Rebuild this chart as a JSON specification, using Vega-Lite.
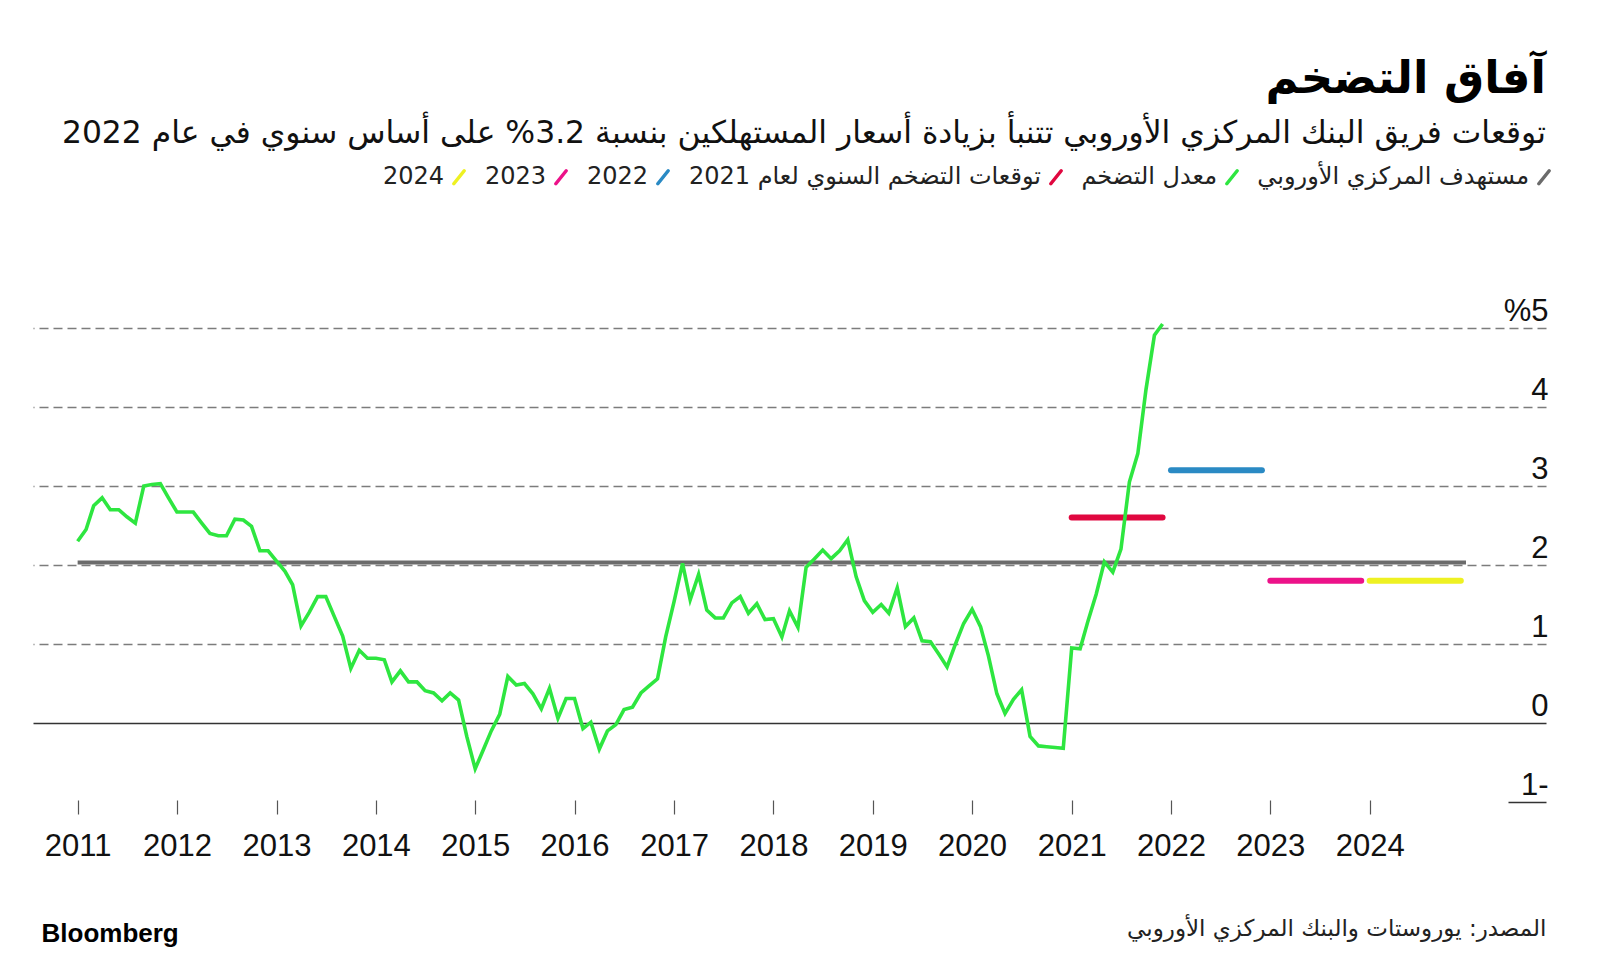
{
  "$schema": "https://vega.github.io/schema/vega-lite/v6.json",
  "width": 1513,
  "height": 474,
  "autosize": {"type": "none"},
  "padding": {"left": 33, "top": 328, "right": 54, "bottom": 159},
  "background": "white",
  "config": {"view": {"stroke": null}},
  "title": {
    "text": "آفاق التضخم",
    "subtitle": "توقعات فريق البنك المركزي الأوروبي تتنبأ بزيادة أسعار المستهلكين بنسبة 3.2% على أساس سنوي في عام 2022",
    "anchor": "end",
    "frame": "group",
    "font": "DejaVu Sans",
    "fontSize": 45,
    "fontWeight": "bold",
    "color": "#000000",
    "subtitleFont": "DejaVu Sans",
    "subtitleFontSize": 31.4,
    "subtitleColor": "#111111",
    "subtitlePadding": 16,
    "offset": 16
  },
  "datasets": {
    "inflation": [
      {"date": "2011-01-01", "value": 2.30}, {"date": "2011-02-01", "value": 2.45}, {"date": "2011-03-01", "value": 2.75}, {"date": "2011-04-01", "value": 2.85},
      {"date": "2011-05-01", "value": 2.70}, {"date": "2011-06-01", "value": 2.70}, {"date": "2011-07-01", "value": 2.61}, {"date": "2011-08-01", "value": 2.53},
      {"date": "2011-09-01", "value": 3.00}, {"date": "2011-10-01", "value": 3.02}, {"date": "2011-11-01", "value": 3.03}, {"date": "2011-12-01", "value": 2.85},
      {"date": "2012-01-01", "value": 2.67}, {"date": "2012-02-01", "value": 2.67}, {"date": "2012-03-01", "value": 2.67}, {"date": "2012-04-01", "value": 2.53},
      {"date": "2012-05-01", "value": 2.40}, {"date": "2012-06-01", "value": 2.37}, {"date": "2012-07-01", "value": 2.37}, {"date": "2012-08-01", "value": 2.58},
      {"date": "2012-09-01", "value": 2.57}, {"date": "2012-10-01", "value": 2.49}, {"date": "2012-11-01", "value": 2.18}, {"date": "2012-12-01", "value": 2.18},
      {"date": "2013-01-01", "value": 2.05}, {"date": "2013-02-01", "value": 1.92}, {"date": "2013-03-01", "value": 1.75}, {"date": "2013-04-01", "value": 1.23},
      {"date": "2013-05-01", "value": 1.40}, {"date": "2013-06-01", "value": 1.60}, {"date": "2013-07-01", "value": 1.60}, {"date": "2013-08-01", "value": 1.35},
      {"date": "2013-09-01", "value": 1.10}, {"date": "2013-10-01", "value": 0.69}, {"date": "2013-11-01", "value": 0.92}, {"date": "2013-12-01", "value": 0.82},
      {"date": "2014-01-01", "value": 0.82}, {"date": "2014-02-01", "value": 0.80}, {"date": "2014-03-01", "value": 0.52}, {"date": "2014-04-01", "value": 0.66},
      {"date": "2014-05-01", "value": 0.52}, {"date": "2014-06-01", "value": 0.52}, {"date": "2014-07-01", "value": 0.41}, {"date": "2014-08-01", "value": 0.38},
      {"date": "2014-09-01", "value": 0.28}, {"date": "2014-10-01", "value": 0.38}, {"date": "2014-11-01", "value": 0.29}, {"date": "2014-12-01", "value": -0.17},
      {"date": "2015-01-01", "value": -0.58}, {"date": "2015-02-01", "value": -0.33}, {"date": "2015-03-01", "value": -0.10}, {"date": "2015-04-01", "value": 0.11},
      {"date": "2015-05-01", "value": 0.59}, {"date": "2015-06-01", "value": 0.48}, {"date": "2015-07-01", "value": 0.50}, {"date": "2015-08-01", "value": 0.37},
      {"date": "2015-09-01", "value": 0.18}, {"date": "2015-10-01", "value": 0.44}, {"date": "2015-11-01", "value": 0.06}, {"date": "2015-12-01", "value": 0.31},
      {"date": "2016-01-01", "value": 0.31}, {"date": "2016-02-01", "value": -0.07}, {"date": "2016-03-01", "value": 0.01}, {"date": "2016-04-01", "value": -0.33},
      {"date": "2016-05-01", "value": -0.10}, {"date": "2016-06-01", "value": -0.02}, {"date": "2016-07-01", "value": 0.17}, {"date": "2016-08-01", "value": 0.20},
      {"date": "2016-09-01", "value": 0.38}, {"date": "2016-10-01", "value": 0.47}, {"date": "2016-11-01", "value": 0.56}, {"date": "2016-12-01", "value": 1.09},
      {"date": "2017-01-01", "value": 1.54}, {"date": "2017-02-01", "value": 2.02}, {"date": "2017-03-01", "value": 1.56}, {"date": "2017-04-01", "value": 1.88},
      {"date": "2017-05-01", "value": 1.43}, {"date": "2017-06-01", "value": 1.33}, {"date": "2017-07-01", "value": 1.33}, {"date": "2017-08-01", "value": 1.52},
      {"date": "2017-09-01", "value": 1.60}, {"date": "2017-10-01", "value": 1.39}, {"date": "2017-11-01", "value": 1.51}, {"date": "2017-12-01", "value": 1.31},
      {"date": "2018-01-01", "value": 1.32}, {"date": "2018-02-01", "value": 1.09}, {"date": "2018-03-01", "value": 1.42}, {"date": "2018-04-01", "value": 1.21},
      {"date": "2018-05-01", "value": 1.97}, {"date": "2018-06-01", "value": 2.08}, {"date": "2018-07-01", "value": 2.19}, {"date": "2018-08-01", "value": 2.08},
      {"date": "2018-09-01", "value": 2.18}, {"date": "2018-10-01", "value": 2.32}, {"date": "2018-11-01", "value": 1.85}, {"date": "2018-12-01", "value": 1.55},
      {"date": "2019-01-01", "value": 1.40}, {"date": "2019-02-01", "value": 1.50}, {"date": "2019-03-01", "value": 1.39}, {"date": "2019-04-01", "value": 1.71},
      {"date": "2019-05-01", "value": 1.22}, {"date": "2019-06-01", "value": 1.33}, {"date": "2019-07-01", "value": 1.04}, {"date": "2019-08-01", "value": 1.03},
      {"date": "2019-09-01", "value": 0.87}, {"date": "2019-10-01", "value": 0.71}, {"date": "2019-11-01", "value": 1.00}, {"date": "2019-12-01", "value": 1.26},
      {"date": "2020-01-01", "value": 1.44}, {"date": "2020-02-01", "value": 1.22}, {"date": "2020-03-01", "value": 0.85}, {"date": "2020-04-01", "value": 0.37},
      {"date": "2020-05-01", "value": 0.12}, {"date": "2020-06-01", "value": 0.30}, {"date": "2020-07-01", "value": 0.42}, {"date": "2020-08-01", "value": -0.17},
      {"date": "2020-09-01", "value": -0.29}, {"date": "2020-10-01", "value": -0.30}, {"date": "2020-11-01", "value": -0.31}, {"date": "2020-12-01", "value": -0.32},
      {"date": "2021-01-01", "value": 0.95}, {"date": "2021-02-01", "value": 0.94}, {"date": "2021-03-01", "value": 1.28}, {"date": "2021-04-01", "value": 1.63},
      {"date": "2021-05-01", "value": 2.04}, {"date": "2021-06-01", "value": 1.91}, {"date": "2021-07-01", "value": 2.20}, {"date": "2021-08-01", "value": 3.05},
      {"date": "2021-09-01", "value": 3.41}, {"date": "2021-10-01", "value": 4.22}, {"date": "2021-11-01", "value": 4.91}, {"date": "2021-12-01", "value": 5.05}
    ],
    "segments": [
      {"series": "مستهدف المركزي الأوروبي", "start": "2011-01-01", "end": "2024-12-20", "value": 2.0},
      {"series": "توقعات التضخم السنوي لعام 2021", "start": "2021-01-01", "end": "2021-12-01", "value": 2.6},
      {"series": "2022", "start": "2022-01-01", "end": "2022-12-01", "value": 3.2},
      {"series": "2023", "start": "2023-01-01", "end": "2023-12-01", "value": 1.8},
      {"series": "2024", "start": "2024-01-01", "end": "2024-12-01", "value": 1.8}
    ]
  },
  "layer": [
    {
      "data": {"name": "segments"},
      "transform": [{"filter": "datum.series === 'مستهدف المركزي الأوروبي'"}],
      "mark": {"type": "rule", "strokeWidth": 4, "strokeCap": "butt", "yOffset": -2.5},
      "encoding": {
        "x": {"field": "start", "type": "temporal"},
        "x2": {"field": "end"},
        "y": {"field": "value", "type": "quantitative"},
        "color": {"field": "series", "type": "nominal"}
      }
    },
    {
      "data": {"name": "segments"},
      "transform": [{"filter": "datum.series !== 'مستهدف المركزي الأوروبي'"}],
      "mark": {"type": "rule", "strokeWidth": 6, "strokeCap": "round"},
      "encoding": {
        "x": {"field": "start", "type": "temporal"},
        "x2": {"field": "end"},
        "y": {"field": "value", "type": "quantitative"},
        "color": {"field": "series", "type": "nominal"}
      }
    },
    {
      "data": {"name": "inflation"},
      "transform": [{"calculate": "'معدل التضخم'", "as": "series"}],
      "mark": {"type": "line", "strokeWidth": 3.6},
      "encoding": {
        "x": {"field": "date", "type": "temporal"},
        "y": {"field": "value", "type": "quantitative"},
        "color": {"field": "series", "type": "nominal"}
      }
    }
  ],
  "resolve": {"scale": {"color": "shared"}},
  "encoding": {
    "x": {
      "field": "date",
      "type": "temporal",
      "scale": {"type": "utc", "domain": [{"year": 2010, "month": 7, "date": 21, "utc": true}, {"year": 2025, "month": 10, "date": 10, "utc": true}]},
      "axis": {
        "orient": "bottom",
        "values": [
          {"year": 2011, "month": 1, "date": 1, "utc": true}, {"year": 2012, "month": 1, "date": 1, "utc": true},
          {"year": 2013, "month": 1, "date": 1, "utc": true}, {"year": 2014, "month": 1, "date": 1, "utc": true},
          {"year": 2015, "month": 1, "date": 1, "utc": true}, {"year": 2016, "month": 1, "date": 1, "utc": true},
          {"year": 2017, "month": 1, "date": 1, "utc": true}, {"year": 2018, "month": 1, "date": 1, "utc": true},
          {"year": 2019, "month": 1, "date": 1, "utc": true}, {"year": 2020, "month": 1, "date": 1, "utc": true},
          {"year": 2021, "month": 1, "date": 1, "utc": true}, {"year": 2022, "month": 1, "date": 1, "utc": true},
          {"year": 2023, "month": 1, "date": 1, "utc": true}, {"year": 2024, "month": 1, "date": 1, "utc": true}
        ],
        "format": "%Y",
        "domain": false,
        "grid": false,
        "ticks": true,
        "offset": -2,
        "tickSize": 14,
        "tickColor": "#555555",
        "tickWidth": 1.2,
        "labelFont": "Liberation Sans",
        "labelFontSize": 31,
        "labelColor": "#111111",
        "labelPadding": 17,
        "labelFlush": false,
        "labelOverlap": false,
        "title": "المصدر: يوروستات والبنك المركزي الأوروبي",
        "titleFont": "DejaVu Sans",
        "titleFontSize": 23,
        "titleFontWeight": "normal",
        "titleColor": "#222222",
        "titleAlign": "right",
        "titleAnchor": "end",
        "titleBaseline": "middle",
        "titleX": 1513,
        "titleY": 128
      }
    },
    "y": {
      "field": "value",
      "type": "quantitative",
      "scale": {"domain": [-1, 5], "nice": false, "zero": false},
      "axis": {
        "orient": "right",
        "values": [-1, 0, 1, 2, 3, 4, 5],
        "domain": false,
        "grid": true,
        "gridColor": {"condition": [{"test": "datum.value === 0", "value": "#333333"}, {"test": "datum.value === -1", "value": "transparent"}], "value": "#7c7c7c"},
        "gridDash": {"condition": {"test": "datum.value === 0", "value": []}, "value": [9, 5]},
        "gridWidth": {"condition": {"test": "datum.value === 0", "value": 1.5}, "value": 1.3},
        "ticks": true,
        "tickSize": -38,
        "tickWidth": 1.3,
        "tickColor": {"condition": {"test": "datum.value === -1", "value": "#333333"}, "value": "transparent"},
        "labelExpr": "datum.value === 5 ? '%5' : (datum.value === -1 ? '1-' : datum.label)",
        "labelFont": "Liberation Sans",
        "labelFontSize": 31,
        "labelColor": "#111111",
        "labelAlign": "right",
        "labelBaseline": "alphabetic",
        "labelPadding": 40,
        "labelOffset": -8,
        "labelFlush": false,
        "labelOverlap": false,
        "title": "Bloomberg",
        "titleFont": "Liberation Sans",
        "titleFontSize": 26,
        "titleFontWeight": "bold",
        "titleColor": "#000000",
        "titleAngle": 0,
        "titleAlign": "left",
        "titleBaseline": "middle",
        "titleX": -1505,
        "titleY": 605
      }
    },
    "color": {
      "field": "series",
      "type": "nominal",
      "scale": {
        "domain": ["2024", "2023", "2022", "توقعات التضخم السنوي لعام 2021", "معدل التضخم", "مستهدف المركزي الأوروبي"],
        "range": ["#eef122", "#ec1289", "#2a8ac4", "#e0073f", "#2ee640", "#6b6b6b"]
      },
      "legend": {
        "orient": "none",
        "legendX": 414,
        "legendY": -163,
        "direction": "horizontal",
        "title": null,
        "symbolType": "M-0.8,1L0.8,-1",
        "symbolSize": 169,
        "symbolStrokeWidth": 3.5,
        "labelFont": "DejaVu Sans",
        "labelFontSize": 24,
        "labelColor": "#222222",
        "labelLimit": 700,
        "labelAlign": "right",
        "labelOffset": -27,
        "columnPadding": 12,
        "encode": {"symbols": {"update": {"strokeCap": {"value": "round"}, "fill": {"value": "transparent"}}}}
      }
    }
  }
}
